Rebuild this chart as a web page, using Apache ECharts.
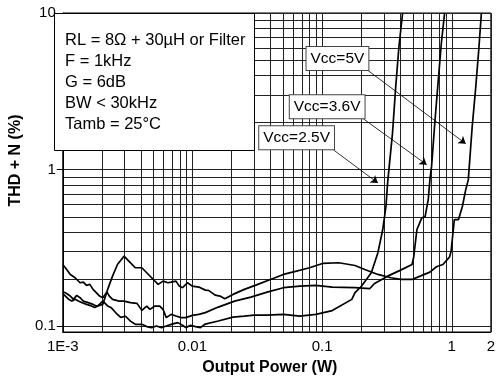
<!DOCTYPE html>
<html>
<head>
<meta charset="utf-8">
<script src="https://cdn.jsdelivr.net/npm/echarts@6/dist/echarts.min.js"></script>
<style>html,body{margin:0;padding:0;background:#fff}#c{width:498px;height:381px}</style>
</head>
<body>
<div id="c"></div>
<script>
// ---- data ----
const xTickValues = [0.001, 0.01, 0.1, 1, 2];
const xTickLabels = ['1E-3', '0.01', '0.1', '1', '2'];
const yTickValues = [0.1, 1, 10];
const yTickLabels = ['0.1', '1', '10'];
const xGridValues = [0.001,0.002,0.003,0.004,0.005,0.006,0.007,0.008,0.009,
  0.01,0.02,0.03,0.04,0.05,0.06,0.07,0.08,0.09,
  0.1,0.2,0.3,0.4,0.5,0.6,0.7,0.8,0.9,1,2];
const yGridValues = [0.1,0.2,0.3,0.4,0.5,0.6,0.7,0.8,0.9,1,2,3,4,5,6,7,8,9,10];
const xName = 'Output Power (W)';
const yName = 'THD + N (%)';
const conditionLines = ['RL = 8\u03A9 + 30\u00B5H or Filter', 'F = 1kHz', 'G = 6dB', 'BW < 30kHz', 'Tamb = 25\u00B0C'];

const seriesNames = ['Vcc=2.5V', 'Vcc=3.6V', 'Vcc=5V'];
const vcc25 = [[0.001,0.162],[0.001048,0.156],[0.001109,0.149],[0.001175,0.145],[0.001246,0.149],[0.00132,0.145],[0.001397,0.142],[0.001524,0.138],[0.001662,0.135],[0.001763,0.132],[0.001867,0.135],[0.002035,0.145],[0.00222,0.135],[0.002351,0.132],[0.002565,0.122],[0.002796,0.114],[0.00305,0.116],[0.003325,0.108],[0.003627,0.103],[0.004073,0.103],[0.004442,0.0996],[0.004845,0.0981],[0.005284,0.1004],[0.005761,0.0981],[0.006284,0.1004],[0.006853,0.1029],[0.007695,0.1056],[0.008393,0.1015],[0.008888,0.0981],[0.009692,0.1015],[0.01057,0.0996],[0.01153,0.0981],[0.01257,0.1034],[0.01583,0.1081],[0.02054,0.1146],[0.02515,0.1163],[0.02991,0.118],[0.03767,0.118],[0.05033,0.1192],[0.06724,0.1163],[0.08966,0.1192],[0.1197,0.126],[0.1694,0.1486],[0.1794,0.1639],[0.2015,0.1806],[0.2396,0.2198],[0.2692,0.2947],[0.2935,0.4148],[0.3108,0.5841],[0.3201,0.8264],[0.349,1.713],[0.3696,3.394],[0.3913,6.1],[0.4174,9.96]];
const vcc36 = [[0.001,0.248],[0.001048,0.2366],[0.001143,0.2144],[0.001246,0.2042],[0.001359,0.1898],[0.00144,0.1915],[0.001524,0.1825],[0.001617,0.1852],[0.001712,0.1721],[0.001813,0.1639],[0.001922,0.156],[0.002035,0.1523],[0.002193,0.1654],[0.002287,0.156],[0.002421,0.1486],[0.00272,0.1449],[0.002966,0.1449],[0.003325,0.1416],[0.003735,0.1401],[0.004073,0.1264],[0.004442,0.1347],[0.004704,0.1283],[0.005131,0.1347],[0.005594,0.1347],[0.005933,0.1283],[0.006284,0.1136],[0.006853,0.1192],[0.007472,0.1163],[0.008149,0.1136],[0.008888,0.1136],[0.009982,0.1175],[0.0112,0.1192],[0.01257,0.1223],[0.01583,0.1327],[0.02115,0.1449],[0.02825,0.1537],[0.03767,0.1654],[0.05033,0.1764],[0.06724,0.1806],[0.08966,0.1825],[0.1197,0.178],[0.1794,0.1764],[0.2326,0.1738],[0.2538,0.1879],[0.3201,0.2091],[0.4031,0.2284],[0.4938,0.2482],[0.5077,0.274],[0.5384,0.4148],[0.5872,0.4925],[0.6219,0.4996],[0.6583,0.6441],[0.678,0.8636],[0.6983,1.05],[0.7396,1.984],[0.7832,3.566],[0.8306,6.412],[0.8796,9.954]];
const vcc5 = [[0.001,0.1658],[0.001048,0.1639],[0.001143,0.156],[0.00121,0.1486],[0.001281,0.1576],[0.001359,0.1523],[0.00144,0.1449],[0.00157,0.1416],[0.001712,0.138],[0.001813,0.1347],[0.001922,0.1361],[0.002035,0.138],[0.00222,0.1721],[0.002421,0.2091],[0.002641,0.2482],[0.002966,0.2804],[0.003234,0.2606],[0.003627,0.2366],[0.004073,0.2366],[0.004442,0.2198],[0.004845,0.2042],[0.005441,0.1852],[0.005933,0.1943],[0.006471,0.1898],[0.006853,0.1915],[0.007472,0.1943],[0.007911,0.1806],[0.008393,0.1764],[0.009154,0.1898],[0.009982,0.1806],[0.0112,0.178],[0.01257,0.1703],[0.01331,0.1696],[0.01495,0.1583],[0.01631,0.156],[0.01778,0.1501],[0.02054,0.1599],[0.02515,0.1721],[0.03081,0.1833],[0.03997,0.1992],[0.05033,0.2144],[0.06339,0.225],[0.08,0.2366],[0.1007,0.2519],[0.1345,0.2545],[0.1794,0.2446],[0.2134,0.2307],[0.2692,0.2144],[0.3389,0.2042],[0.4031,0.1992],[0.4938,0.1992],[0.5702,0.2091],[0.678,0.2218],[0.7617,0.24],[0.8543,0.2482],[0.959,0.2764],[0.9879,0.3017],[1.046,0.4803],[1.127,0.4803],[1.208,0.5841],[1.281,0.7458],[1.341,0.8636],[1.437,1.887],[1.524,3.233],[1.614,5.811],[1.691,9.96]];

// annotation anchors (data coordinates)
const labelCenters = [[0.0636, 1.599], [0.1094, 2.519], [0.1313, 5.115]];
const arrowStarts = [[0.1218, 1.341], [0.2075, 2.113], [0.2262, 4.291]];
const arrowEnds = [[0.2692, 0.8228], [0.6405, 1.076], [1.281, 1.464]];

// ---- chart ----
const FONT = '"Liberation Sans", Arial, Helvetica, sans-serif';
const chart = echarts.init(document.getElementById('c'), null, {renderer: 'canvas'});
const allData = [vcc25, vcc36, vcc5];

function near(a, b) { return Math.abs(Math.log10(a) - Math.log10(b)) < 1e-6; }
function fmt(values, labels) {
  return function (v) {
    for (let i = 0; i < values.length; i++) if (near(v, values[i])) return labels[i];
    return '';
  };
}

const series = allData.map(function (d, i) {
  return {
    name: seriesNames[i],
    type: 'line',
    data: d,
    xAxisIndex: 0,
    yAxisIndex: 0,
    showSymbol: false,
    symbol: 'none',
    lineStyle: {color: '#000', width: 1.7},
    z: 3,
    markLine: {
      silent: true,
      animation: false,
      symbol: ['none', 'arrow'],
      symbolSize: 7,
      label: {show: false},
      lineStyle: {color: '#000', width: 0.8, type: 'solid'},
      data: [[{coord: arrowStarts[i]}, {coord: arrowEnds[i]}]]
    },
    markPoint: {
      silent: true,
      animation: false,
      symbol: 'rect',
      symbolSize: 1,
      itemStyle: {color: 'rgba(0,0,0,0)'},
      label: {
        show: true,
        position: 'inside',
        formatter: seriesNames[i],
        color: '#000',
        fontFamily: FONT,
        fontSize: 15.5,
        backgroundColor: '#fff',
        borderColor: '#444',
        borderWidth: 1,
        padding: [4, 4, 3, 4]
      },
      data: [{coord: labelCenters[i]}]
    }
  };
});

const option = {
  animation: false,
  backgroundColor: '#fff',
  grid: {left: 54, right: 6, top: 13, bottom: 48, show: true, borderColor: '#000', borderWidth: 1, backgroundColor: 'transparent'},
  xAxis: [{
    type: 'log', logBase: 10, min: 0.001, max: 2,
    name: xName, nameLocation: 'middle', nameGap: 28,
    nameTextStyle: {fontFamily: FONT, fontSize: 16, fontWeight: 'bold', color: '#000', padding: [0, 14, 0, 0]},
    axisLine: {show: true, lineStyle: {color: '#000', width: 1}},
    axisTick: {show: false, customValues: xGridValues},
    splitLine: {show: true, lineStyle: {color: '#222', width: 1}},
    minorSplitLine: {show: false},
    axisLabel: {customValues: xTickValues, formatter: fmt(xTickValues, xTickLabels), color: '#000', fontFamily: FONT, fontSize: 15, margin: 7, showMinLabel: true, showMaxLabel: true, hideOverlap: false}
  }],
  yAxis: [{
    type: 'log', logBase: 10, min: 0.092, max: 10,
    name: yName, nameLocation: 'middle', nameGap: 25,
    nameTextStyle: {fontFamily: FONT, fontSize: 16, fontWeight: 'bold', color: '#000', padding: [0, 0, 0, 24]},
    axisLine: {show: true, lineStyle: {color: '#000', width: 1}},
    axisTick: {show: true, inside: false, length: 6, customValues: yTickValues, lineStyle: {color: '#000'}},
    splitLine: {show: false},
    axisLabel: {customValues: yTickValues, formatter: fmt(yTickValues, yTickLabels), color: '#000', fontFamily: FONT, fontSize: 15, margin: 7, hideOverlap: false}
  }, {
    type: 'log', logBase: 10, min: 0.092, max: 10, position: 'left',
    axisLine: {show: false},
    axisTick: {show: false, customValues: yGridValues},
    axisLabel: {show: false},
    splitLine: {show: true, lineStyle: {color: '#222', width: 1}}
  }],
  graphic: [{
    type: 'rect', z: 20,
    shape: {x: 54.5, y: 13.5, width: 200, height: 137},
    style: {fill: '#fff', stroke: '#000', lineWidth: 1}
  }, {
    type: 'text', z: 21, x: 65, y: 29.5,
    style: {text: conditionLines.join('\n'), fontFamily: FONT, fontSize: 16.5, lineHeight: 21, fill: '#000', verticalAlign: 'top', align: 'left'}
  }],
  series: series
};
chart.setOption(option);
</script>
</body>
</html>
